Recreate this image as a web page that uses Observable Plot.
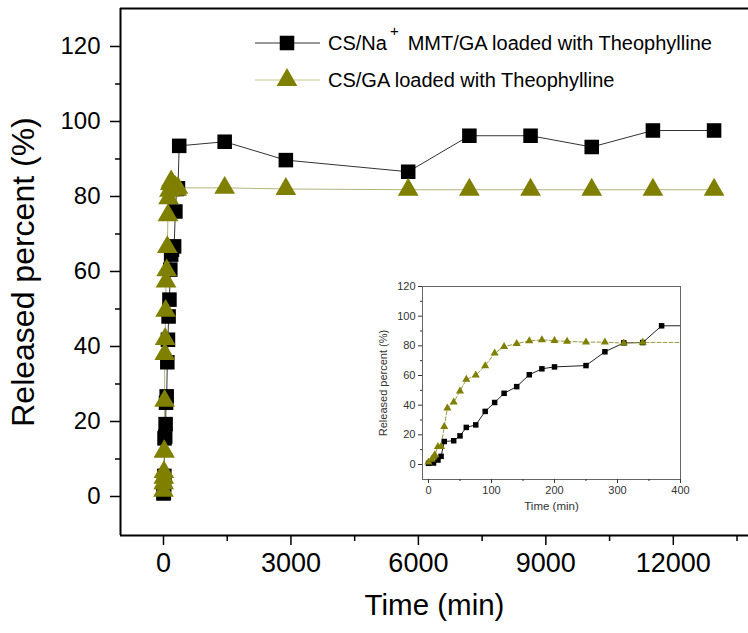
<!DOCTYPE html>
<html>
<head>
<meta charset="utf-8">
<script src="https://cdn.jsdelivr.net/npm/d3@7"></script>
<script src="https://cdn.jsdelivr.net/npm/@observablehq/plot@0.6"></script>
<style>
  body { margin: 0; background: #fff; }
  #wrap { position: relative; width: 748px; height: 633px; font-family: "Liberation Sans", Arial, sans-serif; }
  #wrap > svg, #wrap > figure { position: absolute; margin: 0; }
</style>
</head>
<body>
<div id="wrap"></div>
<script>
// Release profiles (time in minutes, cumulative release in %)
const seriesNames = [
  "CS/Na+MMT/GA loaded with Theophylline",
  "CS/GA loaded with Theophylline"
];

const mmtTime = [0, 8, 15, 20, 25, 40, 50, 60, 75, 90, 105, 120, 140, 160, 180, 200, 250, 280, 310, 340, 370,
                 1440, 2880, 5760, 7200, 8640, 10080, 11520, 12960];
const mmtRelease = [0.8, 1, 3, 5.5, 15.5, 16, 19.3, 25, 26.7, 35.8, 41.8, 48, 52.5, 60.5, 64.5, 65.8, 66.7, 76, 82, 82.2, 93.5,
                    94.6, 89.7, 86.6, 96.2, 96.2, 93.2, 97.6, 97.6];

const gaTime = [0, 5, 8, 10, 15, 20, 25, 30, 40, 50, 60, 75, 90, 105, 120, 140, 160, 180, 200, 220, 250, 280, 310, 340,
                1440, 2880, 5760, 7200, 8640, 10080, 11520, 12960];
const gaRelease = [1.5, 3.5, 5, 6.5, 12, 12, 25.5, 38, 42, 49.5, 57.3, 60.3, 66.5, 75, 79.5, 81.5, 83.3, 84, 83.5, 83, 82.5, 82.5, 81.8, 82.3,
                   82.3, 82, 81.8, 81.8, 81.8, 81.8, 81.8, 81.8];

// Axis ticks
const mainXTicks = [0, 3000, 6000, 9000, 12000];
const mainXMinor = [1500, 4500, 7500, 10500, 13500];
const mainYTicks = [0, 20, 40, 60, 80, 100, 120];
const mainYMinor = [10, 30, 50, 70, 90, 110];
const insetXTicks = [0, 100, 200, 300, 400];
const insetXMinor = [50, 150, 250, 350];
const insetYTicks = [0, 20, 40, 60, 80, 100, 120];
const insetYMinor = [10, 30, 50, 70, 90, 110];

const mmt = mmtTime.map((t, i) => ({t, v: mmtRelease[i]}));
const ga = gaTime.map((t, i) => ({t, v: gaRelease[i]}));

const FONT = '"Liberation Sans", Arial, sans-serif';
const OLIVE = "#7f7f00";
const plain = d => String(d);
const blank = () => "";
const wrap = document.getElementById("wrap");

// ---- main chart ----
const mainX = [-1012, 13770];
const mainY = [-10.4, 130.13];
const main = Plot.plot({
  width: 748, height: 633,
  marginLeft: 120, marginTop: 8, marginRight: 0, marginBottom: 98,
  style: {fontFamily: FONT, color: "black", background: "transparent", overflow: "visible"},
  x: {domain: mainX, axis: null},
  y: {domain: mainY, axis: null},
  marks: [
    Plot.ruleX([mainX[0]], {stroke: "black", strokeWidth: 2}),
    Plot.ruleY([mainY[0], mainY[1]], {stroke: "black", strokeWidth: 2}),
    Plot.axisY({ticks: mainYTicks, tickSize: 10, tickPadding: 10, fontSize: 24, tickFormat: plain, label: null, strokeWidth: 1.5}),
    Plot.axisY({ticks: mainYMinor, tickSize: 5, tickFormat: blank, label: null, strokeWidth: 1.5}),
    Plot.axisX({ticks: mainXTicks, tickSize: 10, tickPadding: 7, fontSize: 27, tickFormat: plain, label: null, strokeWidth: 1.5}),
    Plot.axisX({ticks: mainXMinor, tickSize: 6, tickFormat: blank, label: null, strokeWidth: 1.5}),
    Plot.text(["Released percent (%)"], {text: d => d, frameAnchor: "left", textAnchor: "middle", dx: -97, rotate: -90, fontSize: 32}),
    Plot.text(["Time (min)"], {text: d => d, frameAnchor: "bottom", dy: 79, fontSize: 29.5}),
    Plot.line(mmt, {x: "t", y: "v", stroke: "#333", strokeWidth: 1}),
    Plot.line(ga, {x: "t", y: "v", stroke: "#b4b47c", strokeWidth: 1}),
    Plot.dot(mmt, {x: "t", y: "v", symbol: "square", r: 8.2, fill: "black"}),
    Plot.dot(ga, {x: "t", y: "v", symbol: "triangle", r: 7.7, fill: OLIVE})
  ]
});
main.style.left = "0px"; main.style.top = "0px";
wrap.appendChild(main);

// ---- inset: first 400 minutes ----
const insetX = [-9.52, 400];
const insetY = [-10.11, 120];
const inset = Plot.plot({
  width: 320, height: 250,
  marginLeft: 52, marginTop: 16, marginRight: 10, marginBottom: 41,
  style: {fontFamily: FONT, color: "#333", background: "transparent", overflow: "visible"},
  x: {domain: insetX, axis: null},
  y: {domain: insetY, axis: null},
  marks: [
    Plot.frame({stroke: "#666", strokeWidth: 1}),
    Plot.axisY({ticks: insetYTicks, tickSize: 4, tickPadding: 3, fontSize: 11, tickFormat: plain, label: null}),
    Plot.axisY({ticks: insetYMinor, tickSize: 2, tickFormat: blank, label: null}),
    Plot.axisX({ticks: insetXTicks, tickSize: 4, tickPadding: 3, fontSize: 11, tickFormat: plain, label: null}),
    Plot.axisX({ticks: insetXMinor, tickSize: 2, tickFormat: blank, label: null}),
    Plot.text(["Released percent (%)"], {text: d => d, frameAnchor: "left", textAnchor: "middle", dx: -39, rotate: -90, fontSize: 11}),
    Plot.text(["Time (min)"], {text: d => d, frameAnchor: "bottom", dy: 30, fontSize: 11.5}),
    Plot.line(mmt, {x: "t", y: "v", stroke: "#222", strokeWidth: 1, clip: true}),
    Plot.line(ga, {x: "t", y: "v", stroke: "#9a9a40", strokeWidth: 1, strokeDasharray: "4,2", clip: true}),
    Plot.dot(mmt, {x: "t", y: "v", symbol: "square", r: 3.1, fill: "black", clip: true}),
    Plot.dot(ga, {x: "t", y: "v", symbol: "triangle", r: 3.0, fill: OLIVE, clip: true})
  ]
});
inset.style.left = "370px"; inset.style.top = "270px";
wrap.appendChild(inset);

// ---- legend ----
const legend = d3.create("svg")
  .attr("width", 748).attr("height", 110)
  .style("left", "0px").style("top", "0px")
  .style("font-family", FONT);

const rows = [
  {name: seriesNames[0], cy: 43, symbol: d3.symbolSquare, size: Math.PI * 8.2 * 8.2, fill: "black", line: "#333"},
  {name: seriesNames[1], cy: 80, symbol: d3.symbolTriangle, size: Math.PI * 7.7 * 7.7, fill: OLIVE, line: "#c4c49a"}
];
rows.forEach((r, i) => {
  const g = legend.append("g");
  g.append("line").attr("x1", 255).attr("x2", 320).attr("y1", r.cy).attr("y2", r.cy)
    .attr("stroke", r.line).attr("stroke-width", 1);
  g.append("path").attr("d", d3.symbol(r.symbol, r.size)()).attr("transform", `translate(287,${r.cy})`)
    .attr("fill", r.fill);
  const t = g.append("text").attr("x", 328).attr("y", r.cy + 7).attr("font-size", 20).attr("fill", "black");
  if (i === 0) {
    const [a, b] = r.name.split("+");
    t.append("tspan").text(a);
    t.append("tspan").attr("dx", 3).attr("dy", -14).attr("font-size", 15).text("+");
    t.append("tspan").attr("dx", 9).attr("dy", 14).text(b);
  } else {
    t.text(r.name);
  }
});
wrap.appendChild(legend.node());
</script>
</body>
</html>
